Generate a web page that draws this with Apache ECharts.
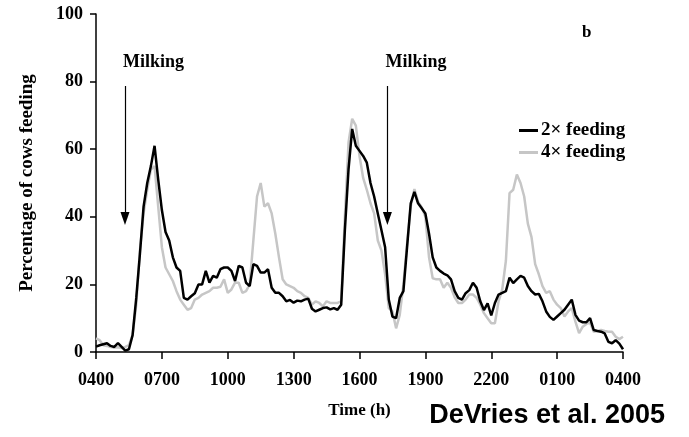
<!DOCTYPE html>
<html><head><meta charset="utf-8">
<script src="https://cdn.jsdelivr.net/npm/echarts@6/dist/echarts.min.js"></script>
<style>html,body{margin:0;padding:0;background:#fff}#c{width:689px;height:437px}</style>
</head><body><div id="c"></div>
<script>
// x tick labels (every 3 h, starting 04:00)
const tickLabels = ['0400','0700','1000','1300','1600','1900','2200','0100','0400'];
// sampling step: 10 minutes, expressed in hours since 04:00
const stepHours = 1/6;
// Percentage of cows feeding, 2x feeding (black)
const feeding2x = [
  1.6,2,2.3,2.6,1.8,1.5,2.6,1.5,0.4,0.8,
  5,16,29,43,50,55,61,51,42,35.5,
  33,28,25,24,16,15.5,16.5,17.4,20,20,
  24,20.5,22.5,22,24.5,25,25,24,21,25.5,
  25,20.5,19.5,26,25.5,23.5,23.5,24.5,19,17.5,
  17.5,16.5,15,15.4,14.6,15.2,15,15.5,15.8,12.8,
  12,12.5,13,13.2,12.6,13,12.5,14,36,54,
  66,61,59.5,58,56,50,46,41,36,31,
  15.5,10.5,10,16,18,31,44,47.4,44,42.5,
  41,35,28,25,24,23.2,22.7,21.5,18,16,
  15.5,17.4,18.3,20.5,19,15,12.4,14.4,10.8,14.5,
  17,17.5,18,22,20.4,21.5,22.5,22,19.5,18,
  17,17.2,15,12,10.4,9.5,10.5,11.5,12.5,14,
  15.5,11,9.3,8.8,8.8,10,6.5,6.2,6,5.5,
  3,2.6,3.5,2.5,0.8
];
// Percentage of cows feeding, 4x feeding (grey)
const feeding4x = [
  4,3.5,2,1.8,1.5,1.3,1.4,1.2,1.5,2,
  5,14,30,41,48,54,55,43,31,25,
  23,21,18,15.5,14,12.5,13,15.5,16,17,
  17.5,18,19,19,19.3,21.5,17.5,18.5,20.5,20.5,
  17.5,18,20,33,46,50,43,44,41,35,
  28,21.5,20,19.5,19,18,17.5,16.5,16,14,
  15,14.5,13.5,15,14.5,14.5,14.5,15,40,62,
  69,67,58,51.5,48,44,41,33,30,23,
  13,12,7,11,20,32,43,48.2,44.5,42.8,
  40,28,21.8,21.5,21.5,19,20.5,19,16.2,14.5,
  14.5,15.5,17,17,16,14,11.5,10,8.5,8.5,
  15,18.5,27,47,48,52.5,50,46,38,34,
  26,23,19.5,17.5,18,15.5,14,13,10.5,12,
  13,9,5.6,7.5,8.3,8.7,6,6.2,6.5,6.2,
  6,6,4.5,3.8,4.5
];
// Milking times (hours since 04:00) and arrow extent (percent)
const milkingHours = [1.32, 13.27];
const arrowTop = 78.7, arrowTip = 39.5;

const serif = '"Liberation Serif","Times New Roman",serif';
const toPairs = arr => arr.map((v, i) => [i * stepHours, v]);
const chart = echarts.init(document.getElementById('c'));
const baseText = {fontFamily: serif, fontWeight: 'bold', color: '#000'};

chart.setOption({
  animation: false,
  backgroundColor: '#fff',
  grid: {left: 96, right: 66, top: 14, bottom: 85},
  xAxis: {
    type: 'value', min: 0, max: 24, interval: 3,
    axisLine: {lineStyle: {color: '#000', width: 1.5}},
    axisTick: {length: 7, lineStyle: {color: '#000', width: 1.5}},
    axisLabel: Object.assign({formatter: v => tickLabels[Math.round(v / 3)], fontSize: 18, margin: 19}, baseText),
    splitLine: {show: false},
    name: 'Time (h)', nameLocation: 'middle', nameGap: 50,
    nameTextStyle: Object.assign({fontSize: 17}, baseText)
  },
  yAxis: {
    type: 'value', min: 0, max: 100, interval: 20,
    axisLine: {show: true, lineStyle: {color: '#000', width: 1.5}},
    axisTick: {show: true, length: 6, lineStyle: {color: '#000', width: 1.5}},
    axisLabel: Object.assign({fontSize: 18, margin: 13}, baseText),
    splitLine: {show: false},
    name: 'Percentage of cows feeding', nameLocation: 'middle', nameGap: 59, nameRotate: 90,
    nameTextStyle: Object.assign({fontSize: 19}, baseText)
  },
  legend: {
    orient: 'vertical', left: 514, top: 116, itemWidth: 19, itemHeight: 3, itemGap: 3,
    icon: 'rect', data: ['2× feeding', '4× feeding'],
    textStyle: Object.assign({fontSize: 19, lineHeight: 19, padding: [0, 0, 0, -2]}, baseText)
  },
  series: [
    {
      name: '4× feeding', type: 'line', data: toPairs(feeding4x), showSymbol: false,
      lineStyle: {color: '#c6c6c6', width: 2.5}, itemStyle: {color: '#c6c6c6'}, z: 2
    },
    {
      name: '2× feeding', type: 'line', data: toPairs(feeding2x), showSymbol: false,
      lineStyle: {color: '#000', width: 2.5}, itemStyle: {color: '#000'}, z: 3,
      markLine: {
        silent: true, symbol: ['none', 'triangle'], symbolSize: [9, 13],
        lineStyle: {color: '#000', width: 1.2, type: 'solid'}, label: {show: false},
        data: milkingHours.map(h => [{coord: [h, arrowTop]}, {coord: [h, arrowTip]}])
      }
    }
  ]
});

const gfx = milkingHours.map(h => {
  const p = chart.convertToPixel({gridIndex: 0}, [h, arrowTop]);
  return {type: 'text', left: p[0] - 2, top: p[1] - 33,
    style: {text: 'Milking', font: 'bold 18px ' + serif, fill: '#000'}};
});
gfx.push({type: 'text', left: 582, top: 24, style: {text: 'b', font: 'bold 17px ' + serif, fill: '#000'}});
gfx.push({type: 'text', right: 24, top: 402, style: {text: 'DeVries et al. 2005', font: 'bold 27px "Liberation Sans", Arial, sans-serif', fill: '#000'}});
chart.setOption({graphic: gfx});
</script>
</body></html>
